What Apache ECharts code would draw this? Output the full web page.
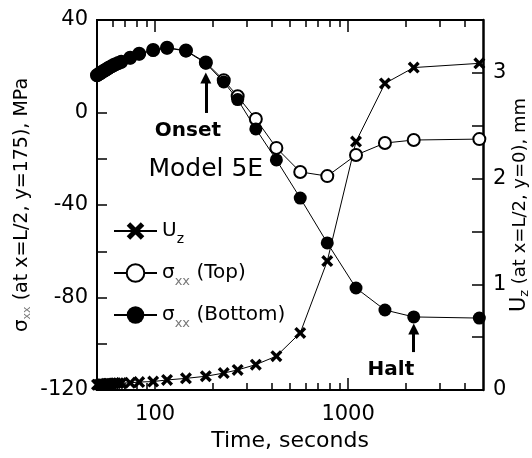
<!DOCTYPE html>
<html>
<head>
<meta charset="utf-8">
<script src="https://cdn.jsdelivr.net/npm/echarts@6/dist/echarts.min.js"></script>
<style>
html, body { margin: 0; padding: 0; background: #fff; }
#chart { width: 532px; height: 458px; }
</style>
</head>
<body>
<div id="chart"></div>
<script>
// 三条曲线共用的时间点（秒）
const times = [50, 51, 52, 53, 54, 55, 56, 57, 58, 59.5, 61, 62.5, 64.5, 66.8, 74.3, 82.7, 97.7, 115.3, 144.5,
    183.2, 226.8, 267.8, 332.6, 425, 565, 780, 1099, 1552, 2188, 4786];
// 跨中挠度 Uz（mm，右轴）
const uzValues = [0.05, 0.05, 0.05, 0.055, 0.055, 0.055, 0.06, 0.06, 0.06, 0.06, 0.062, 0.064, 0.065, 0.066, 0.068,
    0.075, 0.08, 0.095, 0.11, 0.13, 0.16, 0.19, 0.24, 0.32, 0.54, 1.22, 2.35, 2.90, 3.05, 3.09];
// 顶面应力 σxx（MPa，左轴）
const topValues = [16.1, 16.6, 17.0, 17.5, 17.9, 18.3, 18.7, 19.1, 19.5, 20.0, 20.5, 20.9, 21.4, 21.9, 23.7,
    25.4, 27.0, 28.0, 26.8, 21.6, 14.0, 7.0, -2.8, -15.3, -25.7, -27.5, -18.4, -13.2, -11.9, -11.5];
// 底面应力 σxx（MPa，左轴）
const bottomValues = [16.0, 16.5, 16.9, 17.4, 17.8, 18.2, 18.6, 19.0, 19.4, 19.9, 20.4, 20.8, 21.3, 21.8, 23.6,
    25.3, 26.9, 27.9, 26.6, 21.3, 13.2, 5.6, -7.1, -20.5, -37.0, -56.4, -75.9, -85.4, -88.4, -88.9];

// 坐标轴刻度
const xLabelValues = [100, 1000];
const xMinorTicks = [60, 70, 80, 90, 200, 300, 400, 500, 600, 700, 800, 900, 2000, 3000, 4000];
const legendNames = ["Uz", "Top", "Bottom"];

// 注释：箭头起止点与文字位置（数据坐标）
const onsetArrow = [[183.2, -0.2], [183.2, 14.9]];
const haltArrow = [[2188, -103.6], [2188, -93.6]];
const noteTexts = ["Onset", "Model 5E", "Halt"];
const notePoints = [[148, -8.0], [183, -24.5], [1667, -111.1]];

const font = "DejaVu Sans";
const black = "#000";

// 对数时间轴（上下两条，主刻度与次刻度分开画）
function timeAxis(position, ticks, length, showLabel) {
    return {
        type: "log", logBase: 10, min: 50, max: 5000, position,
        axisLine: { show: true, onZero: false, lineStyle: { color: black, width: 2 } },
        axisTick: { show: true, inside: true, length, customValues: ticks, lineStyle: { color: black, width: 1.5 } },
        axisLabel: {
            show: showLabel, customValues: xLabelValues, margin: 14,
            color: black, fontFamily: font, fontSize: 21, formatter: v => String(v)
        },
        splitLine: { show: false }
    };
}

const legendText = {
    Uz: "{m|U}{s|z}",
    Top: "{m|σ}{x|xx}{m| (Top)}",
    Bottom: "{m|σ}{x|xx}{m| (Bottom)}"
};

const chart = echarts.init(document.getElementById("chart"), null, { renderer: "canvas" });
chart.setOption({
    animation: false,
    backgroundColor: "#fff",
    grid: { left: 97, right: 49, top: 20, bottom: 68, containLabel: false, outerBoundsMode: "none" },
    xAxis: [
        { ...timeAxis("bottom", xLabelValues, 12, true), name: "Time, seconds", nameLocation: "middle", nameGap: 40,
            nameMoveOverlap: false, nameTextStyle: { color: black, fontFamily: font, fontSize: 22 } },
        timeAxis("bottom", xMinorTicks, 7, false),
        timeAxis("top", xLabelValues, 12, false),
        timeAxis("top", xMinorTicks, 7, false)
    ],
    yAxis: [
        {
            type: "value", min: -120, max: 40, interval: 20, position: "left",
            name: "{g|σ}{x|xx}{t| (at x=L/2, y=175), MPa}", nameLocation: "middle", nameGap: 64,
            nameMoveOverlap: false,
            nameTextStyle: {
                color: black, fontFamily: font, fontSize: 19,
                rich: {
                    g: { fontFamily: font, fontSize: 20, lineHeight: 22 },
                    x: { fontFamily: font, fontSize: 11, color: "#777", lineHeight: 12, verticalAlign: "bottom" },
                    t: { fontFamily: font, fontSize: 19, lineHeight: 22 }
                }
            },
            axisLine: { show: true, onZero: false, lineStyle: { color: black, width: 2 } },
            axisTick: { show: true, inside: true, length: 10, lineStyle: { color: black, width: 1.5 } },
            axisLabel: { color: black, fontFamily: font, fontSize: 21, margin: 9,
                formatter: v => (v % 40 === 0 ? String(v) : "") },
            splitLine: { show: false }
        },
        {
            type: "value", min: 0, max: 3.5, interval: 0.5, position: "right",
            name: "{u|U}{s|z}{t| (at x=L/2, y=0), mm}", nameLocation: "middle", nameGap: 26,
            nameMoveOverlap: false,
            nameTextStyle: {
                color: black, fontFamily: font, fontSize: 18,
                rich: {
                    u: { fontFamily: font, fontSize: 21, lineHeight: 22 },
                    s: { fontFamily: font, fontSize: 13, lineHeight: 12, verticalAlign: "bottom" },
                    t: { fontFamily: font, fontSize: 18, lineHeight: 22 }
                }
            },
            axisLine: { show: true, onZero: false, lineStyle: { color: black, width: 2.5 } },
            axisTick: { show: true, inside: true, length: 11, lineStyle: { color: black, width: 1.5 } },
            axisLabel: { color: black, fontFamily: font, fontSize: 21, margin: 10,
                formatter: v => (Number.isInteger(v) && v < 3.5 ? String(v) : "") },
            splitLine: { show: false }
        }
    ],
    legend: {
        orient: "vertical", left: 108, top: 216, itemWidth: 43, itemHeight: 22, itemGap: 17,
        data: legendNames, selectedMode: false,
        formatter: name => legendText[name],
        textStyle: {
            color: black, fontFamily: font, fontSize: 20,
            rich: {
                m: { fontFamily: font, fontSize: 20, lineHeight: 30 },
                s: { fontFamily: font, fontSize: 14, lineHeight: 14, verticalAlign: "bottom" },
                x: { fontFamily: font, fontSize: 13, color: "#777", lineHeight: 14, verticalAlign: "bottom" }
            }
        }
    },
    series: [
        {
            name: "Uz", type: "line", yAxisIndex: 1,
            data: times.map((t, i) => [t, uzValues[i]]),
            symbol: "path://M0,2L2,0L5,3L8,0L10,2L7,5L10,8L8,10L5,7L2,10L0,8L3,5Z", symbolSize: 12,
            itemStyle: { color: black, borderWidth: 0 },
            lineStyle: { color: black, width: 1 }
        },
        {
            name: "Top", type: "line",
            data: times.map((t, i) => [t, topValues[i]]),
            symbol: "emptyCircle", symbolSize: 12,
            itemStyle: { color: black, borderColor: black, borderWidth: 1.5 },
            lineStyle: { color: black, width: 1 }
        },
        {
            name: "Bottom", type: "line",
            data: times.map((t, i) => [t, bottomValues[i]]),
            symbol: "circle", symbolSize: 13,
            itemStyle: { color: black },
            lineStyle: { color: black, width: 1 },
            markLine: {
                silent: true, symbol: ["none", "triangle"], symbolSize: [11, 11],
                lineStyle: { color: black, width: 3, type: "solid" },
                label: { show: false },
                data: [
                    [{ coord: onsetArrow[0] }, { coord: onsetArrow[1] }],
                    [{ coord: haltArrow[0] }, { coord: haltArrow[1] }]
                ]
            },
            markPoint: {
                silent: true, symbol: "circle", symbolSize: 0,
                label: { show: true, position: "inside", color: black, fontFamily: font, fontSize: 20,
                    fontWeight: "bold", formatter: p => p.name },
                data: noteTexts.map((name, i) => ({
                    name, coord: notePoints[i],
                    label: name === "Model 5E" ? { fontWeight: "normal", fontSize: 25 } : {}
                }))
            }
        }
    ]
});
</script>
</body>
</html>
